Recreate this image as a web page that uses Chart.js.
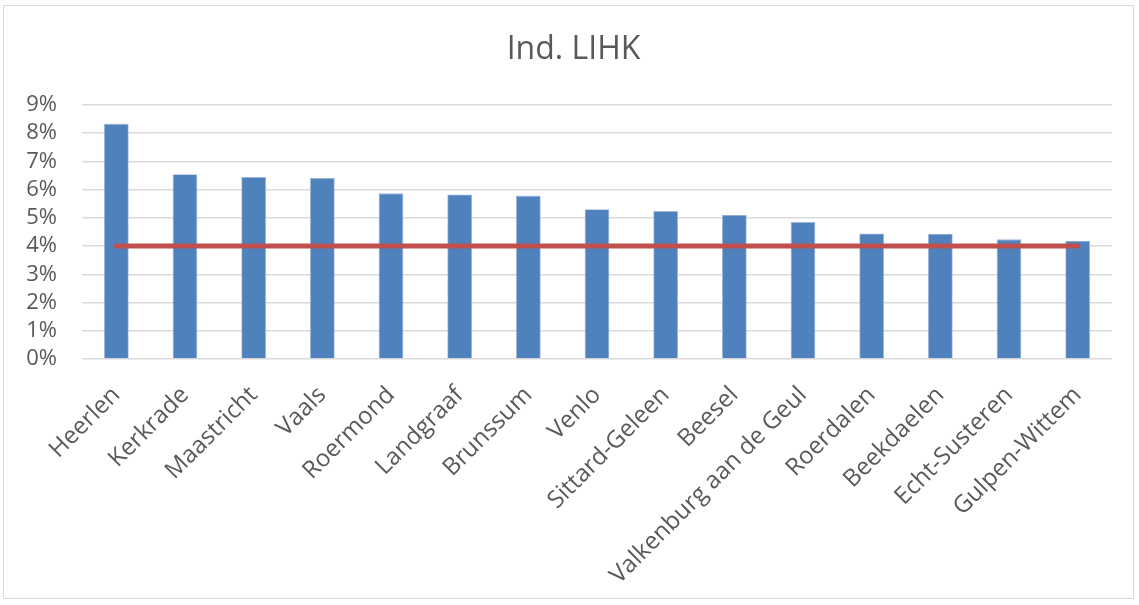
<!DOCTYPE html>
<html>
<head>
<meta charset="utf-8">
<script src="https://cdn.jsdelivr.net/npm/chart.js@4.4.1/dist/chart.umd.min.js"></script>
<style>
  html, body { margin: 0; padding: 0; background: #fff; }
  #frame { position: absolute; left: 3px; top: 5px; width: 1131px; height: 594px; border: 1px solid #D9D9D9; box-sizing: border-box; }
  #c { position: absolute; left: 0; top: 0; }
</style>
</head>
<body>
<div id="frame"></div>
<canvas id="c" width="1139" height="605"></canvas>
<script>
const categories = ["Heerlen","Kerkrade","Maastricht","Vaals","Roermond","Landgraaf","Brunssum","Venlo","Sittard-Geleen","Beesel","Valkenburg aan de Geul","Roerdalen","Beekdaelen","Echt-Susteren","Gulpen-Wittem"];
const lihkValues = [8.34, 6.55, 6.45, 6.41, 5.87, 5.83, 5.79, 5.31, 5.24, 5.11, 4.85, 4.45, 4.44, 4.24, 4.19];
const thresholdValues = [4, 4, 4, 4, 4, 4, 4, 4, 4, 4, 4, 4, 4, 4, 4];
const yTicks = [0, 1, 2, 3, 4, 5, 6, 7, 8, 9];
const chartTitle = 'Ind. LIHK';

const FONT = "'Open Sans', 'Noto Sans', sans-serif";
const TXT = "#595959";

const titlePlugin = {
  id: 'centeredTitle',
  afterDraw(chart) {
    const ctx = chart.ctx;
    ctx.save();
    ctx.font = "32px " + FONT;
    ctx.fillStyle = TXT;
    ctx.textAlign = 'center';
    ctx.textBaseline = 'middle';
    ctx.fillText(chartTitle, chart.width / 2 + 4, 50);
    ctx.restore();
  }
};

new Chart(document.getElementById('c'), {
  data: {
    labels: categories,
    datasets: [
      {
        type: 'line',
        label: 'Norm',
        data: thresholdValues,
        borderColor: '#C0504D',
        borderWidth: 5,
        pointRadius: 0,
        borderCapStyle: 'round',
        order: 0
      },
      {
        type: 'bar',
        label: 'Ind. LIHK',
        data: lihkValues,
        backgroundColor: '#4F81BD',
        borderColor: '#9DB6DA',
        borderWidth: 0.8,
        categoryPercentage: 1.0,
        barPercentage: 0.36,
        order: 1
      }
    ]
  },
  plugins: [titlePlugin],
  options: {
    responsive: false,
    animation: false,
    layout: { padding: { left: 0, right: 27, top: 105, bottom: 0 } },
    plugins: {
      legend: { display: false },
      tooltip: { enabled: false },
      title: { display: false }
    },
    scales: {
      x: {
        grid: { display: false },
        border: { display: false },
        ticks: {
          color: TXT,
          font: { family: FONT, size: 24 },
          minRotation: 45,
          maxRotation: 45,
          padding: 14,
          autoSkip: false
        },
        afterFit: (s) => { s.height = 246; }
      },
      y: {
        min: 0,
        max: 9,
        afterBuildTicks: (s) => { s.ticks = yTicks.map(v => ({ value: v })); },
        grid: { color: '#D9D9D9', lineWidth: 1.5, drawTicks: false },
        border: { display: false },
        ticks: {
          color: TXT,
          font: { family: FONT, size: 22 },
          padding: 25,
          autoSkip: false,
          callback: (v) => v + '%'
        },
        afterFit: (s) => { s.width = 82; }
      }
    }
  }
});
</script>
</body>
</html>
